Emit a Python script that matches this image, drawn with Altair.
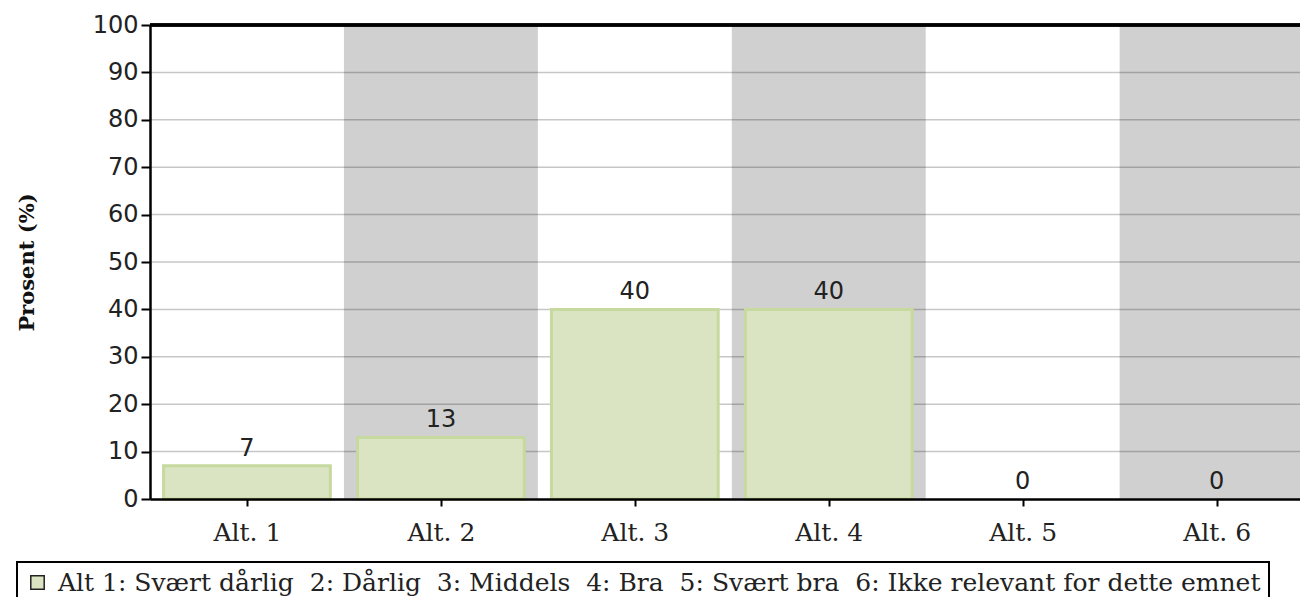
import json
import altair as alt
import pandas as pd

# ---- data ----
categories = ["Alt. 1", "Alt. 2", "Alt. 3", "Alt. 4", "Alt. 5", "Alt. 6"]
values = [7, 13, 40, 40, 0, 0]
y_ticks = [0, 10, 20, 30, 40, 50, 60, 70, 80, 90, 100]
grid_values = [10, 20, 30, 40, 50, 60, 70, 80, 90]
NB = "\u00a0"
legend_label = (f"Alt 1: Svært dårlig{NB} 2: Dårlig{NB} 3: Middels{NB} 4: Bra"
                f"{NB} 5: Svært bra{NB} 6: Ikke relevant for dette emnet")

positions = list(range(1, len(categories) + 1))
df = pd.DataFrame({"pos": positions, "cat": categories, "value": values,
                   "legend": [legend_label] * len(categories)})
grid_df = pd.DataFrame({"g": grid_values})

x_scale = alt.Scale(domain=[0.5, 6.43], nice=False, zero=False)
y_scale = alt.Scale(domain=[0, 100], nice=False)

label_expr = json.dumps(categories) + "[datum.value - 1]"
xaxis = alt.Axis(values=positions, labelExpr=label_expr, title=None,
                 domainColor="black", domainWidth=2.5, tickColor="black",
                 tickWidth=2, tickSize=7, labelFont="DejaVu Serif",
                 labelFontSize=25, labelPadding=14, labelColor="#222",
                 grid=False, zindex=1)
yaxis = alt.Axis(values=y_ticks, title="Prosent (%)", titleFont="DejaVu Serif",
                 titleFontWeight="bold", titleFontSize=21, titleColor="#111",
                 titleX=-123, titleY=237, titleAlign="center",
                 titleBaseline="middle", titleAngle=270,
                 labelFont="DejaVu Sans", labelFontSize=24, labelColor="#222",
                 labelPadding=3, tickSize=9, tickWidth=2, tickColor="black",
                 domainColor="black", domainWidth=2.5, grid=False, zindex=1)

bands = alt.Chart(df).transform_filter("datum.pos % 2 == 0").transform_calculate(
    x0="datum.pos - 0.5", x1="datum.pos + 0.5"
).mark_rect(color="#d0d0d0", clip=True).encode(
    x=alt.X("x0:Q", scale=x_scale, axis=xaxis),
    x2="x1:Q",
    y=alt.Y(datum=0, scale=y_scale, axis=yaxis),
    y2=alt.Y2(datum=100),
)

grid = alt.Chart(grid_df).mark_rule(color="black", opacity=0.22, strokeWidth=1.5).encode(
    y=alt.Y("g:Q", scale=y_scale, axis=yaxis)
)

top = alt.Chart(grid_df).mark_rule(color="black", strokeWidth=2.5).encode(
    y=alt.Y(datum=100, scale=y_scale, axis=yaxis)
)

bars = alt.Chart(df).transform_filter("datum.value > 0").transform_calculate(
    bx0="datum.pos - 0.43", bx1="datum.pos + 0.43"
).mark_rect(stroke="#c6d99e", strokeWidth=3).encode(
    x=alt.X("bx0:Q", scale=x_scale, axis=xaxis),
    x2="bx1:Q",
    y=alt.Y("value:Q", scale=y_scale, axis=yaxis),
    y2=alt.Y2(datum=0),
    color=alt.Color("legend:N", scale=alt.Scale(range=["#dae4c2"]),
                    legend=alt.Legend(title=None, orient="none", legendX=-133,
                                      legendY=537, padding=8, strokeColor="black",
                                      symbolType="square", symbolSize=180,
                                      symbolStrokeColor="#222", symbolStrokeWidth=1.5,
                                      labelFont="DejaVu Serif", labelFontSize=25,
                                      labelLimit=0, labelOffset=8, labelColor="#222")),
)

labels = alt.Chart(df).mark_text(font="DejaVu Sans", fontSize=24, dy=-10,
                                 baseline="alphabetic", color="#222").encode(
    x=alt.X("pos:Q", scale=x_scale, axis=xaxis),
    y=alt.Y("value:Q", scale=y_scale, axis=yaxis),
    text="value:Q",
)

chart = alt.layer(bands, grid, top, bars, labels).properties(
    width=1150, height=474,
    autosize=alt.AutoSizeParams(type="none"),
    padding={"left": 142, "top": 17, "right": 0, "bottom": 98},
    background="white",
).configure_view(stroke=None).configure_legend(strokeWidth=2)

chart.save("out.html", embed_options={"renderer": "svg", "actions": False})
